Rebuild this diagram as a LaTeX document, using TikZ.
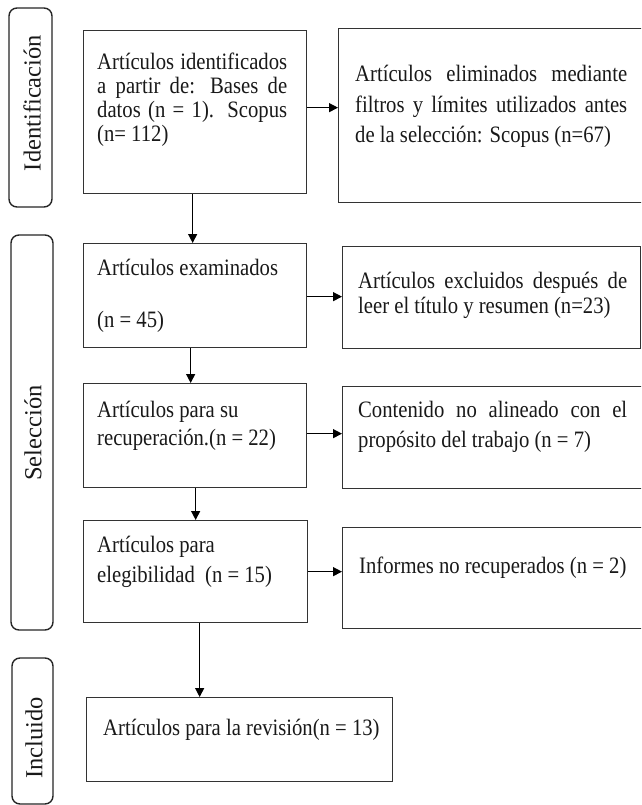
\documentclass[tikz,border=0pt]{standalone}
\usepackage{fontspec}
\setmainfont[FakeStretch=0.88]{Liberation Serif}
\newfontfamily\labfont{Liberation Serif}
\usetikzlibrary{arrows.meta}
\hyphenpenalty=10000
\exhyphenpenalty=10000
\tolerance=9999
\begin{document}
\begin{tikzpicture}[x=1pt,y=-1pt,
  box/.style={draw=black!80, line width=1.3pt, rectangle, inner sep=0pt, anchor=north west},
  labbox/.style={draw=black!85, line width=1.4pt, rectangle, rounded corners=8pt, inner sep=0pt},
  labtxt/.style={rotate=90, inner sep=0pt, text=black!90, font=\labfont\fontsize{24.5}{28}\selectfont},
  txt/.style={anchor=base west, inner sep=0pt, align=justify, text=black!90},
  arr/.style={line width=1.3pt, -{Triangle[length=9pt,width=9pt]}}
]
\path[use as bounding box] (0,0) rectangle (641,805);
\clip (0,0) rectangle (641,805);
\fill[white] (0,0) rectangle (641,805);

% stage labels
\node[labbox, minimum width=43pt, minimum height=199pt] (l1) at (30.5,107.5) {};
\node[labtxt] (l1t) at (32,103) {Identificación};
\node[labbox, minimum width=42pt, minimum height=395pt] (l2) at (32,432.5) {};
\node[labtxt] (l2t) at (33,433) {Selección};
\node[labbox, minimum width=41pt, minimum height=146pt] (l3) at (32.5,731) {};
\node[labtxt] (l3t) at (34,738) {Incluido};

% boxes
\node[box, minimum width=223pt, minimum height=163pt] (b1) at (83,30) {};
\node[box, minimum width=330pt, minimum height=174pt] (r1) at (338,28) {};
\node[box, minimum width=223pt, minimum height=104pt] (b2) at (83,243) {};
\node[box, minimum width=298pt, minimum height=102pt] (r2) at (342,246) {};
\node[box, minimum width=223pt, minimum height=104pt] (b3) at (83,383) {};
\node[box, minimum width=330pt, minimum height=102pt] (r3) at (342,386) {};
\node[box, minimum width=224pt, minimum height=102pt] (b4) at (83,520) {};
\node[box, minimum width=330pt, minimum height=101pt] (r4) at (342,527) {};
\node[box, minimum width=306pt, minimum height=84pt] (b5) at (86,697) {};

% texts
\node[txt, text width=190pt, font=\fontsize{23.5}{24}\selectfont] (t1) at (97,70)
  {Artículos identificados\linebreak a partir de: Bases de\linebreak datos (n = 1). Scopus\linebreak (n= 112)};
\node[txt, text width=272pt, font=\fontsize{23.5}{30.5}\selectfont] (tr1) at (355,82)
  {Artículos eliminados mediante\linebreak filtros y límites utilizados antes\linebreak de la selección: Scopus (n=67)};
\node[txt, text width=200pt, font=\fontsize{23.5}{52}\selectfont] (t2) at (97,275)
  {Artículos examinados\\(n = 45)};
\node[txt, text width=269pt, font=\fontsize{23.5}{25}\selectfont] (tr2) at (358,288)
  {Artículos excluidos después de\linebreak leer el título y resumen (n=23)};
\node[txt, text width=200pt, font=\fontsize{23.5}{28}\selectfont] (t3) at (97,417)
  {Artículos para su\\recuperación.(n = 22)};
\node[txt, text width=269pt, font=\fontsize{23.5}{30}\selectfont] (tr3) at (358,417)
  {Contenido no alineado con el\linebreak propósito del trabajo (n = 7)};
\node[txt, text width=200pt, font=\fontsize{23.5}{30}\selectfont] (t4) at (97,552)
  {Artículos para\\elegibilidad \ (n = 15)};
\node[txt, text width=269pt, font=\fontsize{23.5}{25}\selectfont] (tr4) at (359,573)
  {Informes no recuperados (n = 2)};
\node[txt, text width=280pt, font=\fontsize{23.5}{25}\selectfont] (t5) at (103,735)
  {Artículos para la revisión(n = 13)};

% connectors
\draw[arr] ([yshift=4.5pt]b1.east) -- ([yshift=4.5pt]b1.east -| r1.west);
\draw[arr] ([xshift=-2.5pt]b1.south) -- ([xshift=-2.5pt]b1.south |- b2.north);
\draw[arr] ([yshift=-1pt]b2.east) -- ([yshift=-1pt]b2.east -| r2.west);
\draw[arr] ([xshift=-4.5pt]b2.south) -- ([xshift=-4.5pt]b2.south |- b3.north);
\draw[arr] ([yshift=2pt]b3.east) -- ([yshift=2pt]b3.east -| r3.west);
\draw[arr] ([xshift=0.5pt]b3.south) -- ([xshift=0.5pt]b3.south |- b4.north);
\draw[arr] (b4.east) -- (b4.east -| r4.west);
\draw[arr] ([xshift=4pt]b4.south) -- ([xshift=4pt]b4.south |- b5.north);
\end{tikzpicture}
\end{document}
